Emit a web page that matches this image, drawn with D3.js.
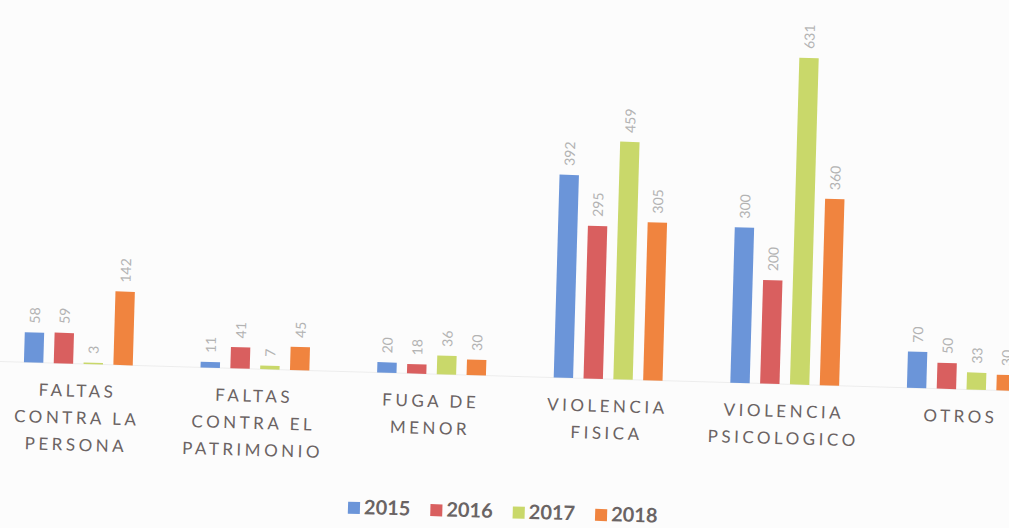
<!DOCTYPE html>
<html>
<head>
<meta charset="utf-8">
<script src="https://cdn.jsdelivr.net/npm/d3@7"></script>
<style>
  html, body { margin: 0; padding: 0; background: #fcfcfc; overflow: hidden; }
</style>
</head>
<body>
<script>
// datos del grafico
const categorias = [
  ["FALTAS", "CONTRA LA", "PERSONA"],
  ["FALTAS", "CONTRA EL", "PATRIMONIO"],
  ["FUGA DE", "MENOR"],
  ["VIOLENCIA", "FISICA"],
  ["VIOLENCIA", "PSICOLOGICO"],
  ["OTROS"]
];
const anios = ["2015", "2016", "2017", "2018"];
const v2015 = [58, 11, 20, 392, 300, 70];
const v2016 = [59, 41, 18, 295, 200, 50];
const v2017 = [3, 7, 36, 459, 631, 33];
const v2018 = [142, 45, 30, 305, 360, 30];
const series = [v2015, v2016, v2017, v2018];
const colores = ["#6b95d9", "#d95f5f", "#c9d86a", "#f0843f"];

const width = 1009, height = 528;
const base = 376;

const svg = d3.select("body").append("svg")
  .attr("width", width)
  .attr("height", height)
  .style("font-family", "Lato, 'Open Sans', sans-serif");

// la foto esta algo inclinada
const g = svg.append("g").attr("transform", "rotate(1.65, 500, 370)");

const x0 = d3.scaleBand()
  .domain(d3.range(categorias.length))
  .range([-10, 1050])
  .paddingInner(0.35)
  .paddingOuter(0.175);

const x1 = d3.scaleBand()
  .domain(d3.range(anios.length))
  .range([0, x0.bandwidth()])
  .paddingInner(0.35)
  .paddingOuter(0.1);

const y = d3.scaleLinear()
  .domain([0, 700])
  .range([base, base - 700 * 0.518]);

// linea base
g.append("line")
  .attr("x1", -20).attr("x2", 1060)
  .attr("y1", base).attr("y2", base)
  .attr("stroke", "#ededed");

const grupos = g.selectAll("g.cat")
  .data(categorias)
  .join("g")
  .attr("class", "cat")
  .attr("transform", (d, i) => `translate(${x0(i)},0)`);

grupos.selectAll("rect")
  .data((d, i) => series.map((s, j) => ({ j, v: s[i] })))
  .join("rect")
  .attr("x", d => x1(d.j))
  .attr("y", d => y(d.v))
  .attr("width", x1.bandwidth())
  .attr("height", d => base - y(d.v))
  .attr("fill", d => colores[d.j]);

grupos.selectAll("text.val")
  .data((d, i) => series.map((s, j) => ({ j, v: s[i] })))
  .join("text")
  .attr("class", "val")
  .attr("transform", d => `translate(${x1(d.j) + x1.bandwidth() / 2 + 5},${y(d.v) - 9}) rotate(-90)`)
  .attr("fill", "#b3b3b3")
  .style("font-size", "14px")
  .text(d => d.v);

// etiquetas de categoria
grupos.append("text")
  .attr("x", x0.bandwidth() / 2)
  .attr("y", base + 33)
  .attr("text-anchor", "middle")
  .attr("fill", "#6b6363")
  .style("font-size", "17px")
  .style("letter-spacing", "3.5px")
  .selectAll("tspan")
  .data(d => d)
  .join("tspan")
  .attr("x", x0.bandwidth() / 2)
  .attr("dy", (d, i) => i === 0 ? 0 : 27)
  .text(d => d);

// leyenda
const leyenda = g.append("g").attr("transform", "translate(352,517)");
let lx = 0;
anios.forEach((a, i) => {
  const item = leyenda.append("g").attr("transform", `translate(${lx},0)`);
  item.append("rect")
    .attr("x", 0).attr("y", -11)
    .attr("width", 12).attr("height", 12)
    .attr("fill", colores[i]);
  const t = item.append("text")
    .attr("x", 16).attr("y", 1)
    .attr("fill", "#6a6464")
    .style("font-size", "20px")
    .style("font-weight", "bold")
    .text(a);
  lx += 16 + t.node().getComputedTextLength() + 20;
});
</script>
</body>
</html>
